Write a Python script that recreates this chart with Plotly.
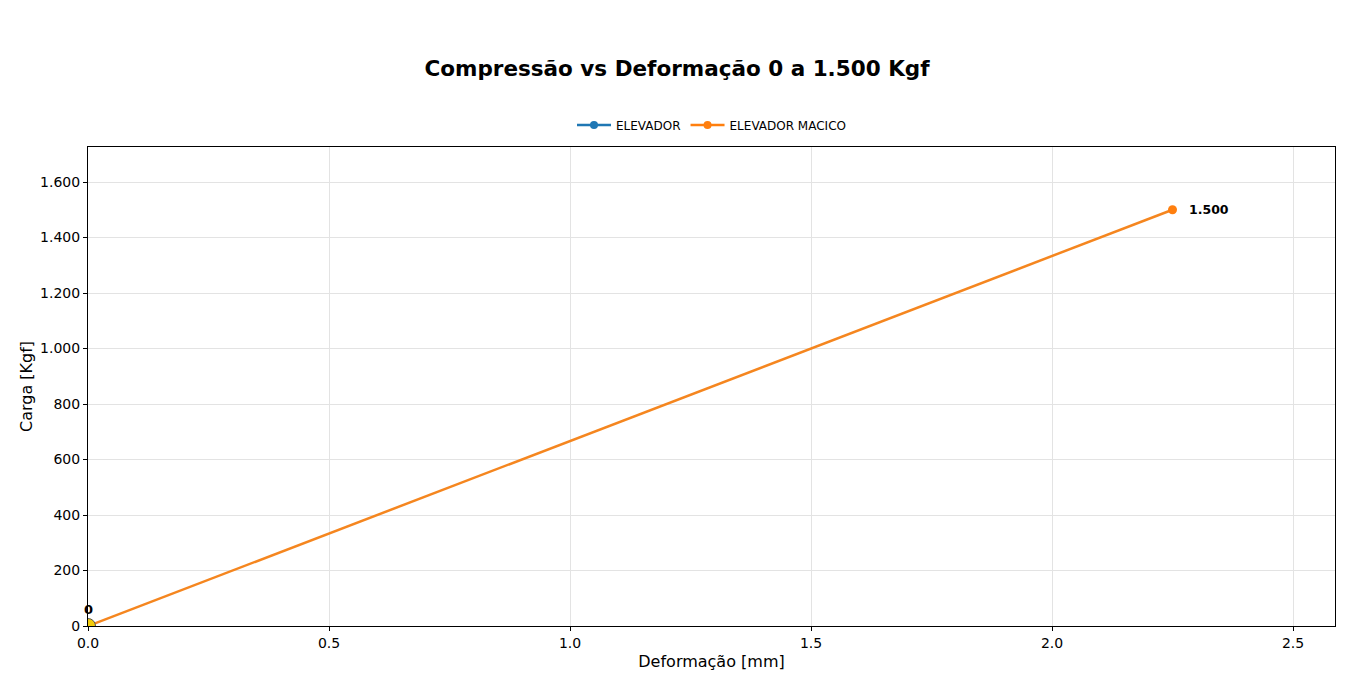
import plotly.graph_objects as go

# Data
macico_x = [0.0, 2.25]
macico_y = [0, 1500]
elevador_x = [0.0]
elevador_y = [0]
x_ticks = [0.0, 0.5, 1.0, 1.5, 2.0, 2.5]
x_ticktext = ["0.0", "0.5", "1.0", "1.5", "2.0", "2.5"]
y_ticks = [0, 200, 400, 600, 800, 1000, 1200, 1400, 1600]
y_ticktext = ["0", "200", "400", "600", "800", "1.000", "1.200", "1.400", "1.600"]

W, H = 1341, 667
L, R, T, B = 80, 14, 139, 49
pw, ph = W - L - R, H - T - B

fig = go.Figure()

fig.add_trace(go.Scatter(
    x=elevador_x, y=elevador_y, name="ELEVADOR", mode="lines+markers",
    line=dict(color="#1f77b4", width=2.5), marker=dict(size=8, color="#1f77b4"),
    cliponaxis=True, showlegend=True))

fig.add_trace(go.Scatter(
    x=macico_x, y=macico_y, name="ELEVADOR MACICO", mode="lines",
    line=dict(color="#f5861f", width=2.5), cliponaxis=True, showlegend=False))
fig.add_trace(go.Scatter(
    x=[macico_x[-1]], y=[macico_y[-1]], name="ELEVADOR MACICO", mode="markers",
    marker=dict(size=9, color="#ff7f0e"), cliponaxis=False, showlegend=False))
fig.add_trace(go.Scatter(
    x=[None], y=[None], name="ELEVADOR MACICO", mode="lines+markers",
    line=dict(color="#ff7f0e", width=2.5), marker=dict(size=8, color="#ff7f0e")))
# highlighted origin point
fig.add_trace(go.Scatter(
    x=[macico_x[0]], y=[macico_y[0]], mode="markers", showlegend=False,
    marker=dict(size=15, color="#f2cc0c", line=dict(color="#555555", width=1)),
    cliponaxis=True))

# labels
fig.add_annotation(x=macico_x[-1], y=macico_y[-1], text="<b>1.500</b>", showarrow=False,
                   xanchor="left", xshift=14, font=dict(size=12.5, color="black"))
fig.add_annotation(x=0, y=0, text="<b>0</b>", showarrow=False, yshift=17,
                   xanchor="center", font=dict(size=13, color="black"))

fig.update_layout(
    width=W, height=H,
    margin=dict(l=L, r=R, t=T, b=B),
    paper_bgcolor="white", plot_bgcolor="white",
    font=dict(family="DejaVu Sans", size=12, color="black"),
    title=dict(text="<b>Compressão vs Deformação 0 a 1.500 Kgf</b>", x=(677 - 8) / W, xanchor="center",
               y=1 - 60 / H, yanchor="middle", font=dict(size=21.5, color="black")),
    legend=dict(orientation="h", x=0.5, xanchor="center", y=1 + (T - 117) / ph, yanchor="middle",
                font=dict(size=12), bgcolor="rgba(0,0,0,0)", itemwidth=34),
    xaxis=dict(range=[0, pw / 482.0], tickvals=x_ticks, ticktext=x_ticktext,
               showgrid=True, gridcolor="#e3e3e3", zeroline=False, automargin=False,
               showline=True, linecolor="black", linewidth=1, mirror=True,
               ticks="outside", ticklen=4, tickcolor="black", tickfont=dict(size=14),
               title=dict(text="Deformação [mm]", font=dict(size=16), standoff=6)),
    yaxis=dict(range=[0, ph / (444 / 1600)], tickvals=y_ticks, ticktext=y_ticktext,
               showgrid=True, gridcolor="#e3e3e3", zeroline=False, automargin=False,
               showline=True, linecolor="black", linewidth=1, mirror=True,
               ticks="outside", ticklen=4, tickcolor="black", tickfont=dict(size=14),
               title=dict(text="Carga [Kgf]", font=dict(size=16), standoff=3)),
)

fig.write_html("out.html")
